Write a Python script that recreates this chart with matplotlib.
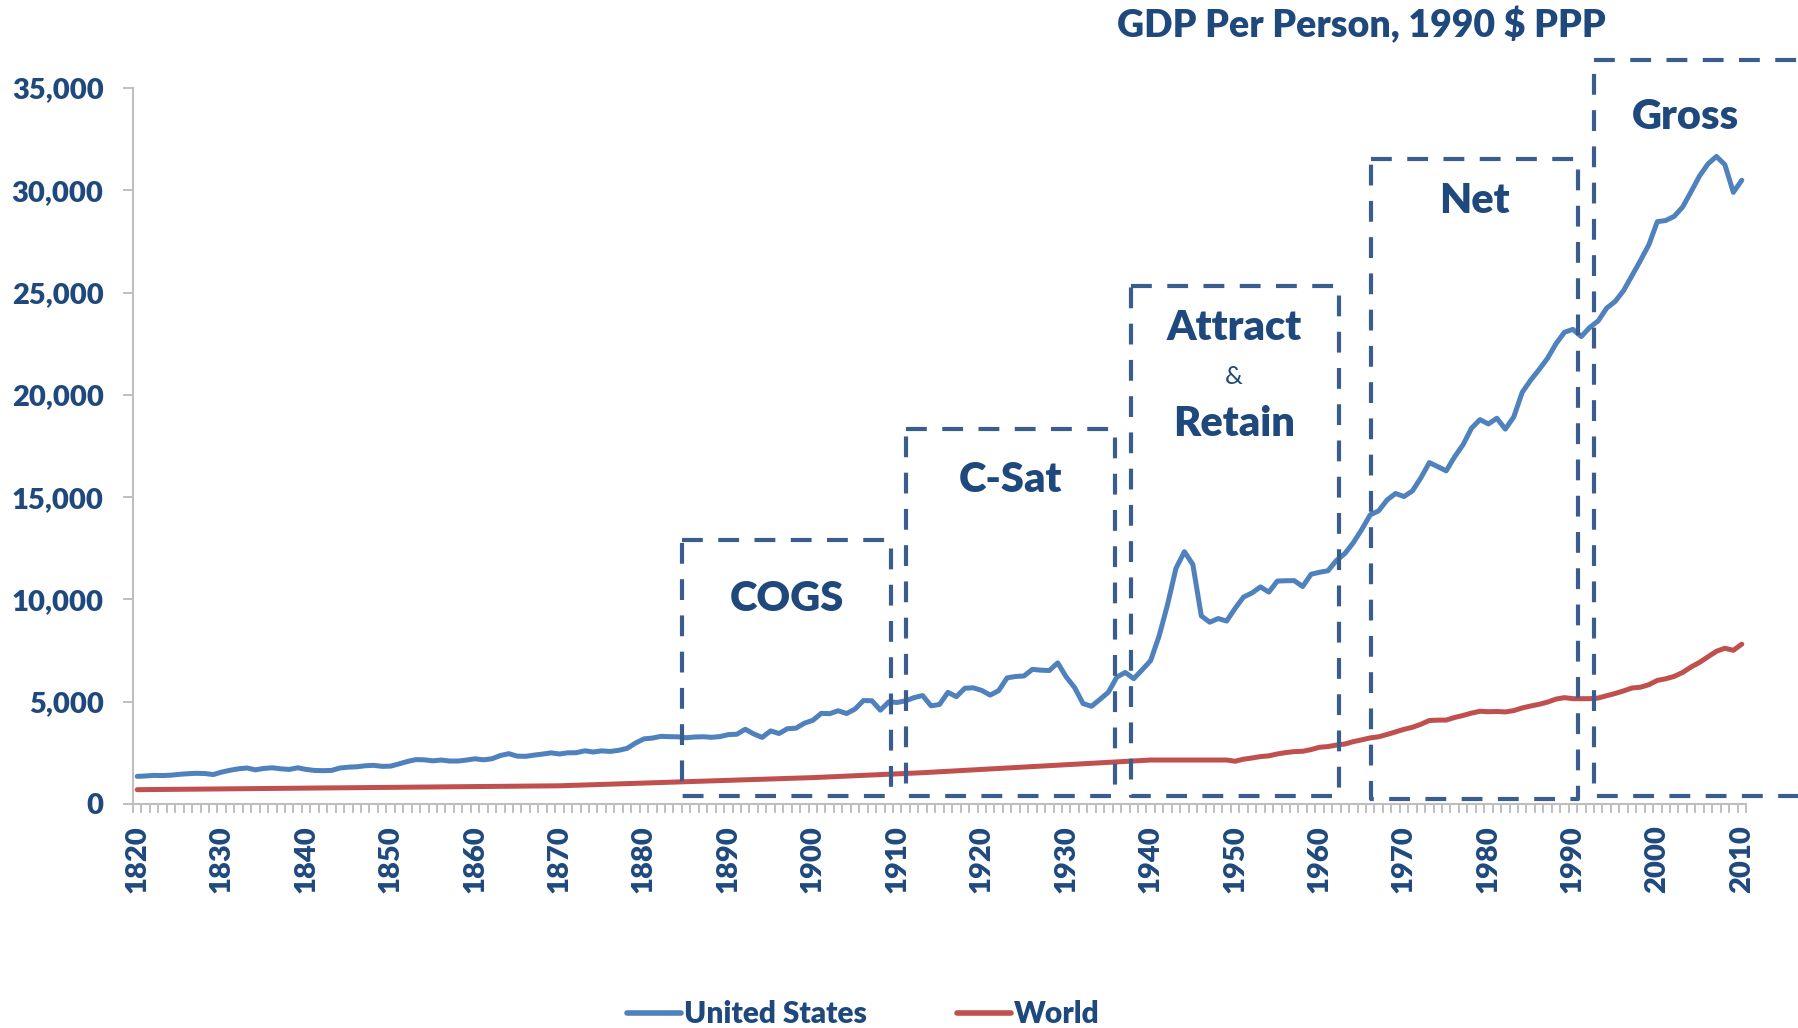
import matplotlib
matplotlib.use("Agg")
import matplotlib.pyplot as plt
import numpy as np

plt.rcParams['font.family'] = ['Lato', 'DejaVu Sans']

# ---------------- data ----------------
us_years = list(range(1820, 2011))
us_values = [
    # 1820-1829
    1350, 1370, 1400, 1390, 1410, 1450, 1480, 1500, 1490, 1440,
    # 1830-1839
    1560, 1650, 1720, 1760, 1670, 1740, 1770, 1720, 1690, 1770,
    # 1840-1849
    1690, 1640, 1630, 1640, 1760, 1800, 1820, 1870, 1890, 1840,
    # 1850-1859
    1850, 1960, 2080, 2170, 2160, 2110, 2150, 2100, 2100, 2150,
    # 1860-1869
    2210, 2160, 2210, 2370, 2460, 2340, 2330, 2390, 2440, 2500,
    # 1870-1879
    2445, 2503, 2507, 2601, 2541, 2599, 2568, 2624, 2718, 2977,
    # 1880-1889
    3184, 3222, 3307, 3291, 3285, 3239, 3275, 3289, 3260, 3295,
    # 1890-1899
    3392, 3410, 3654, 3425, 3255, 3573, 3446, 3683, 3705, 3950,
    # 1900-1909
    4091, 4430, 4416, 4557, 4424, 4640, 5058, 5046, 4586, 4995,
    # 1910-1919
    4964, 5046, 5201, 5301, 4799, 4864, 5458, 5248, 5659, 5680,
    # 1920-1929
    5552, 5323, 5540, 6164, 6233, 6258, 6581, 6542, 6524, 6899,
    # 1930-1939
    6213, 5691, 4908, 4777, 5114, 5467, 6204, 6430, 6126, 6561,
    # 1940-1949
    7010, 8206, 9741, 11518, 12333, 11709, 9197, 8886, 9065, 8944,
    # 1950-1959
    9561, 10116, 10316, 10613, 10359, 10897, 10914, 10920, 10631, 11230,
    # 1960-1969
    11328, 11402, 11905, 12242, 12773, 13419, 14134, 14330, 14863, 15179,
    # 1970-1979
    15030, 15304, 15944, 16689, 16491, 16284, 16975, 17567, 18373, 18789,
    # 1980-1989
    18577, 18856, 18325, 18920, 20123, 20717, 21236, 21788, 22499, 23059,
    # 1990-1999
    23201, 22849, 23298, 23616, 24241, 24562, 25094, 25827, 26565, 27341,
    # 2000-2010
    28467, 28523, 28727, 29185, 29932, 30702, 31290, 31655, 31251, 29899, 30491,
]

world_years = [1820, 1870, 1900, 1913, 1940, 1949] + list(range(1950, 2011))
world_values = [
    700, 890, 1290, 1530, 2150, 2150,
    # 1950-1959
    2090, 2191, 2249, 2317, 2354, 2446, 2513, 2562, 2577, 2660,
    # 1960-1969
    2773, 2808, 2880, 2932, 3048, 3136, 3232, 3285, 3400, 3524,
    # 1970-1979
    3650, 3750, 3898, 4081, 4100, 4103, 4230, 4328, 4443, 4532,
    # 1980-1989
    4511, 4523, 4500, 4566, 4696, 4790, 4874, 4981, 5129, 5199,
    # 1990-1999
    5149, 5147, 5149, 5180, 5295, 5401, 5529, 5670, 5708, 5833,
    # 2000-2010
    6041, 6120, 6238, 6431, 6699, 6922, 7197, 7465, 7614, 7512, 7814,
]

series_names = ["United States", "World"]
y_ticks = [0, 5000, 10000, 15000, 20000, 25000, 30000, 35000]
x_label_years = list(range(1820, 2011, 10))
title = "GDP Per Person, 1990 $ PPP"

# phase boxes: (label, left year, right year, top value, bottom value)
box_labels = ["COGS", "C-Sat", "Attract & Retain", "Net", "Gross"]
box_left = [1884.5, 1911.0, 1937.7, 1966.1, 1992.5]
box_right = [1909.3, 1935.8, 1962.3, 1990.6, 2030.0]
box_top = [12900, 18330, 25320, 31530, 36370]
box_bottom = [400, 400, 400, 250, 400]

# ---------------- style ----------------
NAVY = '#1F497D'
GRAY = '#BFBFBF'
BOXC = '#3A5D8D'
US_C = '#4F81BD'
WD_C = '#C0504D'
WEIGHT = 'heavy'
TICK_SIZE = 21

fig = plt.figure(figsize=(17.99, 10.28), dpi=100)
ax = fig.add_axes([133/1799, 1-804/1028, (1746-133)/1799, (804-88)/1028])

ax.plot(us_years, us_values, color=US_C, lw=3.6, solid_capstyle='round',
        solid_joinstyle='round', label=series_names[0], zorder=3)
ax.plot(world_years, world_values, color=WD_C, lw=3.6, solid_capstyle='round',
        solid_joinstyle='round', label=series_names[1], zorder=3)

ax.set_xlim(1819.5, 2010.5)
ax.set_ylim(0, 35000)

for s in ['top', 'right']:
    ax.spines[s].set_visible(False)
for s in ['left', 'bottom']:
    ax.spines[s].set_color(GRAY)
    ax.spines[s].set_linewidth(1.5)

ax.set_yticks(y_ticks)
ax.set_yticklabels([f"{v:,}" for v in y_ticks])
ax.tick_params(axis='y', length=7.2, width=1.4, color=GRAY, pad=14,
               labelsize=TICK_SIZE, labelcolor=NAVY)
for t in ax.get_yticklabels():
    t.set_fontweight(WEIGHT)

ax.set_xticks(x_label_years)
ax.set_xticklabels([str(y) for y in x_label_years], rotation=90)
ax.set_xticks(np.arange(1819.5, 2011, 1.0), minor=True)
ax.tick_params(axis='x', which='major', length=0, pad=15.5,
               labelsize=TICK_SIZE, labelcolor=NAVY)
ax.tick_params(axis='x', which='minor', length=6.5, width=1.4, color=GRAY)
for t in ax.get_xticklabels():
    t.set_fontweight(WEIGHT)

# boxes
for lab, l, r, t, b in zip(box_labels, box_left, box_right, box_top, box_bottom):
    ax.plot([l, r, r, l, l], [t, t, b, b, t], color=BOXC, lw=3.0,
            linestyle=(0, (5.0, 3.7)), clip_on=False, zorder=4)

def label(txt, x, y, size=30, weight=WEIGHT):
    ax.text(x, y, txt, ha='center', va='center', fontsize=size,
            fontweight=weight, color=NAVY, zorder=5, clip_on=False)

label("COGS", 1896.9, 10020)
label("C-Sat", 1923.4, 15860)
label("Attract", 1949.9, 23270)
label("&", 1949.9, 20920, size=18, weight='normal')
label("Retain", 1949.9, 18570)
label("Net", 1978.3, 29490)
label("Gross", 2003.3, 33580)

fig.text(1361/1799, 1-37/1028, title, ha='center', va='baseline',
         fontsize=27, fontweight=WEIGHT, color=NAVY)

leg = fig.legend(loc='lower center', bbox_to_anchor=(0.480, -0.0145), ncol=2,
                 frameon=False, handlelength=1.8,
                 handletextpad=0.12, columnspacing=3.0, borderpad=0,
                 labelcolor=NAVY, prop={'weight': WEIGHT, 'size': 21.5})
for h in leg.get_lines():
    h.set_linewidth(4)

fig.savefig("out.png", dpi=100)
